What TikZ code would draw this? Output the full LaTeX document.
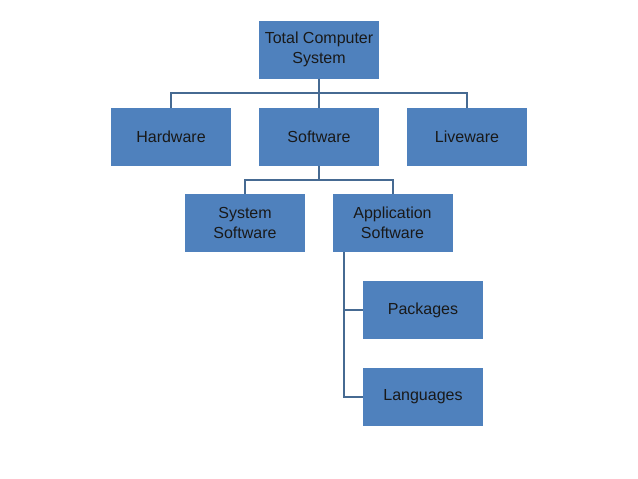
\documentclass[tikz,border=0pt]{standalone}
\usepackage{fontspec}
\setmainfont{Liberation Sans}
\usepackage{xcolor}
\definecolor{boxblue}{RGB}{79,129,189}
\definecolor{linkblue}{RGB}{70,106,146}

\begin{document}
\begin{tikzpicture}[
  x=1pt, y=-1pt,
  every node/.style={fill=boxblue, minimum width=120pt, minimum height=58pt,
                      inner sep=2pt, align=center, text=black!90,
                      font=\fontsize{16}{20}\selectfont},
  link/.style={draw=linkblue, line width=2pt},
]
\useasboundingbox (0,0) rectangle (638,479);
\node (total)       at (319,49.5)  {Total Computer\\System};
\node (hardware)    at (171,137)   {Hardware};
\node (software)    at (319,137)   {Software};
\node (liveware)    at (467,137)   {Liveware};
\node (system)      at (245,223)   {System\\Software};
\node (application) at (392.5,223) {Application\\Software};
\node (packages)    at (423,310)   {Packages};
\node (languages)   at (423,396.5) {Languages};
% branch points
\coordinate (topbus) at (319,93);
\coordinate (lowbus) at (319,179.5);
\coordinate (stem)   at (344,252);
\draw[link] (total.south) -- (software.north);
\draw[link] (hardware.north) |- (topbus) -| (liveware.north);
\draw[link] (software.south) -- (lowbus);
\draw[link] (system.north) |- (lowbus) -| (application.north);
\draw[link] (stem) |- (packages.west);
\draw[link] (stem) |- (languages.west);
\end{tikzpicture}
\end{document}
